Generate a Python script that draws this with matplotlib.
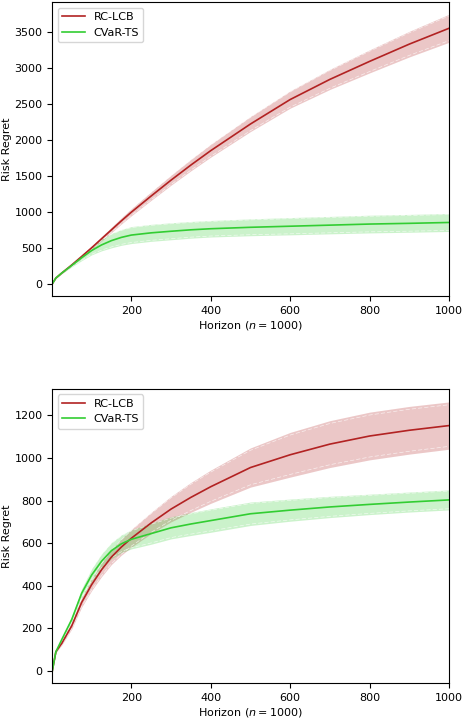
import matplotlib
matplotlib.use("Agg")
import matplotlib.pyplot as plt
import numpy as np

# horizon points
t = [1, 10, 25, 50, 75, 100, 125, 150, 175, 200, 250, 300, 350, 400, 500, 600, 700, 800, 900, 1000]

# top panel
rc_top = [0, 80, 150, 262, 380, 500, 625, 750, 875, 995, 1220, 1440, 1650, 1850, 2220, 2560, 2840, 3090, 3330, 3550]
rc_top_sd = [0, 5, 8, 15, 20, 25, 32, 38, 44, 50, 60, 70, 80, 90, 105, 120, 140, 160, 178, 195]
ts_top = [0, 80, 150, 255, 362, 462, 540, 600, 645, 677, 708, 730, 750, 765, 785, 800, 815, 830, 840, 852]
ts_top_sd = [0, 5, 10, 20, 40, 60, 82, 100, 110, 118, 118, 118, 116, 115, 117, 120, 121, 123, 124, 125]

# bottom panel
rc_bot = [0, 90, 130, 212, 322, 405, 475, 535, 582, 623, 695, 760, 815, 865, 955, 1015, 1065, 1103, 1130, 1152]
rc_bot_sd = [0, 4, 8, 15, 22, 28, 32, 35, 38, 42, 50, 60, 70, 78, 92, 105, 110, 112, 112, 111]
ts_bot = [0, 90, 148, 242, 365, 450, 515, 565, 597, 618, 645, 672, 690, 706, 738, 755, 770, 782, 793, 803]
ts_bot_sd = [0, 4, 8, 15, 22, 30, 35, 38, 42, 45, 50, 52, 54, 55, 55, 52, 50, 48, 47, 47]

red = "firebrick"
green = "limegreen"
fs = 8

fig = plt.figure(figsize=(4.64, 7.18), dpi=100)
ax1 = fig.add_axes([0.1127, 0.5877, 0.855, 0.4095])
ax2 = fig.add_axes([0.1127, 0.0483, 0.855, 0.4103])

panels = [
    (ax1, rc_top, rc_top_sd, ts_top, ts_top_sd, (-170, 3915)),
    (ax2, rc_bot, rc_bot_sd, ts_bot, ts_bot_sd, (-58, 1325)),
]

x = np.array(t)
for ax, rc, rcsd, ts, tssd, ylim in panels:
    for m, sd, c in [(rc, rcsd, red), (ts, tssd, green)]:
        m = np.array(m); sd = np.array(sd)
        ax.fill_between(x, m - sd, m + sd, color=c, alpha=0.25, linewidth=0)
        # faint white streaks just inside the band edges
        for s in (-0.88, 0.88):
            ax.plot(x, m + s * sd, color="white", lw=0.5, alpha=0.7,
                    dashes=(6, 3))
    ax.plot(x, rc, color=red, lw=1.2, label="RC-LCB")
    ax.plot(x, ts, color=green, lw=1.2, label="CVaR-TS")
    ax.set_xlim(1, 1000)
    ax.set_ylim(*ylim)
    ax.set_xticks([200, 400, 600, 800, 1000])
    ax.tick_params(labelsize=fs)
    ax.set_xlabel("Horizon ($n = 1000$)", fontsize=fs, labelpad=2)
    ax.set_ylabel("Risk Regret", fontsize=fs, labelpad=2)
    ax.legend(loc="upper left", fontsize=fs)

fig.savefig("out.png", dpi=100)
